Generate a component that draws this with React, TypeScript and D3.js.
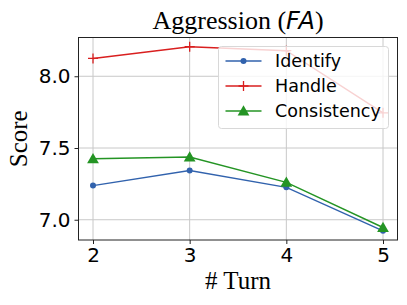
import { useEffect, useRef } from "react";
import * as d3 from "d3";

const W = 407;
const H = 305;
const M = { top: 37.5, right: 9.5, bottom: 65, left: 78.5 };

const turns = [2, 3, 4, 5];
const identify = [7.238, 7.343, 7.226, 6.923];
const handle = [8.124, 8.206, 8.178, 7.745];
const consistency = [7.425, 7.437, 7.261, 6.946];
const yTicks = [7.0, 7.5, 8.0];

const series = [
  { name: "Identify", values: identify, color: "#3162ad", marker: "dot" },
  { name: "Handle", values: handle, color: "#d91f1f", marker: "plus" },
  { name: "Consistency", values: consistency, color: "#249424", marker: "tri" },
];

const SANS = "'DejaVu Sans', sans-serif";
const SERIF = "'Liberation Serif', 'Times New Roman', serif";

export default function App() {
  const svgRef = useRef<SVGSVGElement>(null);

  useEffect(() => {
    if (!svgRef.current) return;
    const root = d3.select(svgRef.current);
    root.selectAll("*").remove();

    const iw = W - M.left - M.right;
    const ih = H - M.top - M.bottom;

    const x = d3.scaleLinear().domain([1.85, 5.15]).range([0, iw]);
    const all = [...identify, ...handle, ...consistency];
    const lo = d3.min(all)!;
    const hi = d3.max(all)!;
    const pad = (hi - lo) * 0.05;
    const y = d3.scaleLinear().domain([lo - pad, hi + pad]).range([ih, 0]);

    const g = root.append("g").attr("transform", `translate(${M.left},${M.top})`);

    // grid
    turns.forEach((t) => {
      g.append("line")
        .attr("x1", x(t)).attr("x2", x(t))
        .attr("y1", 0).attr("y2", ih)
        .attr("stroke", "#c8c8c8").attr("stroke-width", 1);
    });
    yTicks.forEach((v) => {
      g.append("line")
        .attr("x1", 0).attr("x2", iw)
        .attr("y1", y(v)).attr("y2", y(v))
        .attr("stroke", "#c8c8c8").attr("stroke-width", 1);
    });

    const line = d3
      .line<number>()
      .x((_, i) => x(turns[i]))
      .y((d) => y(d));

    series.forEach((s) => {
      g.append("path")
        .attr("d", line(s.values))
        .attr("fill", "none")
        .attr("stroke", s.color)
        .attr("stroke-width", 1.4);

      s.values.forEach((v, i) => {
        const cx = x(turns[i]);
        const cy = y(v);
        if (s.marker === "dot") {
          g.append("circle").attr("cx", cx).attr("cy", cy).attr("r", 3).attr("fill", s.color);
        } else if (s.marker === "plus") {
          g.append("path")
            .attr("d", `M${cx - 5},${cy}H${cx + 5}M${cx},${cy - 5}V${cy + 5}`)
            .attr("stroke", s.color)
            .attr("stroke-width", 1.3);
        } else {
          g.append("path")
            .attr("d", d3.symbol(d3.symbolTriangle, 60)())
            .attr("transform", `translate(${cx},${cy + 1})`)
            .attr("fill", s.color);
        }
      });
    });

    // spines
    g.append("rect")
      .attr("width", iw).attr("height", ih)
      .attr("fill", "none").attr("stroke", "#222").attr("stroke-width", 1);

    // x axis
    g.append("g")
      .attr("transform", `translate(0,${ih})`)
      .call(d3.axisBottom(x).tickValues(turns).tickSize(4).tickPadding(4).tickFormat(d3.format("d")))
      .call((a) => a.select(".domain").remove())
      .call((a) => a.selectAll("line").attr("stroke", "#222"))
      .call((a) => a.selectAll("text").attr("font-family", SANS).attr("font-size", 20).attr("fill", "#000"));

    // y axis
    g.append("g")
      .call(d3.axisLeft(y).tickValues(yTicks).tickSize(4).tickPadding(4).tickFormat(d3.format(".1f")))
      .call((a) => a.select(".domain").remove())
      .call((a) => a.selectAll("line").attr("stroke", "#222"))
      .call((a) => a.selectAll("text").attr("font-family", SANS).attr("font-size", 20).attr("fill", "#000"));

    // title
    const title = root
      .append("text")
      .attr("x", M.left + iw / 2)
      .attr("y", 29)
      .attr("text-anchor", "middle")
      .attr("font-family", SERIF)
      .attr("font-size", 26)
      .attr("fill", "#000");
    title.append("tspan").text("Aggression (");
    title.append("tspan").attr("font-family", SANS).attr("font-style", "italic").attr("font-size", 24).text("FA");
    title.append("tspan").text(")");

    root
      .append("text")
      .attr("x", M.left + iw / 2)
      .attr("y", 289)
      .attr("text-anchor", "middle")
      .attr("font-family", SERIF)
      .attr("font-size", 25)
      .attr("fill", "#000")
      .text("# Turn");

    root
      .append("text")
      .attr("transform", `translate(27,${M.top + ih / 2}) rotate(-90)`)
      .attr("text-anchor", "middle")
      .attr("font-family", SERIF)
      .attr("font-size", 25)
      .attr("fill", "#000")
      .text("Score");

    // legend
    const lg = root.append("g").attr("transform", "translate(218.5,46.5)");
    lg.append("rect")
      .attr("width", 170).attr("height", 82).attr("rx", 3)
      .attr("fill", "white").attr("fill-opacity", 0.8)
      .attr("stroke", "#d8d8d8");
    series.forEach((s, i) => {
      const cy = 14.5 + i * 25;
      lg.append("line")
        .attr("x1", 7).attr("x2", 43).attr("y1", cy).attr("y2", cy)
        .attr("stroke", s.color).attr("stroke-width", 1.4);
      if (s.marker === "dot") {
        lg.append("circle").attr("cx", 25).attr("cy", cy).attr("r", 3).attr("fill", s.color);
      } else if (s.marker === "plus") {
        lg.append("path")
          .attr("d", `M20,${cy}H30M25,${cy - 5}V${cy + 5}`)
          .attr("stroke", s.color).attr("stroke-width", 1.3);
      } else {
        lg.append("path")
          .attr("d", d3.symbol(d3.symbolTriangle, 60)())
          .attr("transform", `translate(25,${cy + 1})`)
          .attr("fill", s.color);
      }
      lg.append("text")
        .attr("x", 56.5)
        .attr("y", cy)
        .attr("dy", "0.36em")
        .attr("font-family", SANS)
        .attr("font-size", 17.5)
        .attr("fill", "#000")
        .text(s.name);
    });
  }, []);

  return (
    <svg
      ref={svgRef}
      width={W}
      height={H}
      viewBox={`0 0 ${W} ${H}`}
      style={{ position: "absolute", left: 0, top: 0, background: "white" }}
    />
  );
}
